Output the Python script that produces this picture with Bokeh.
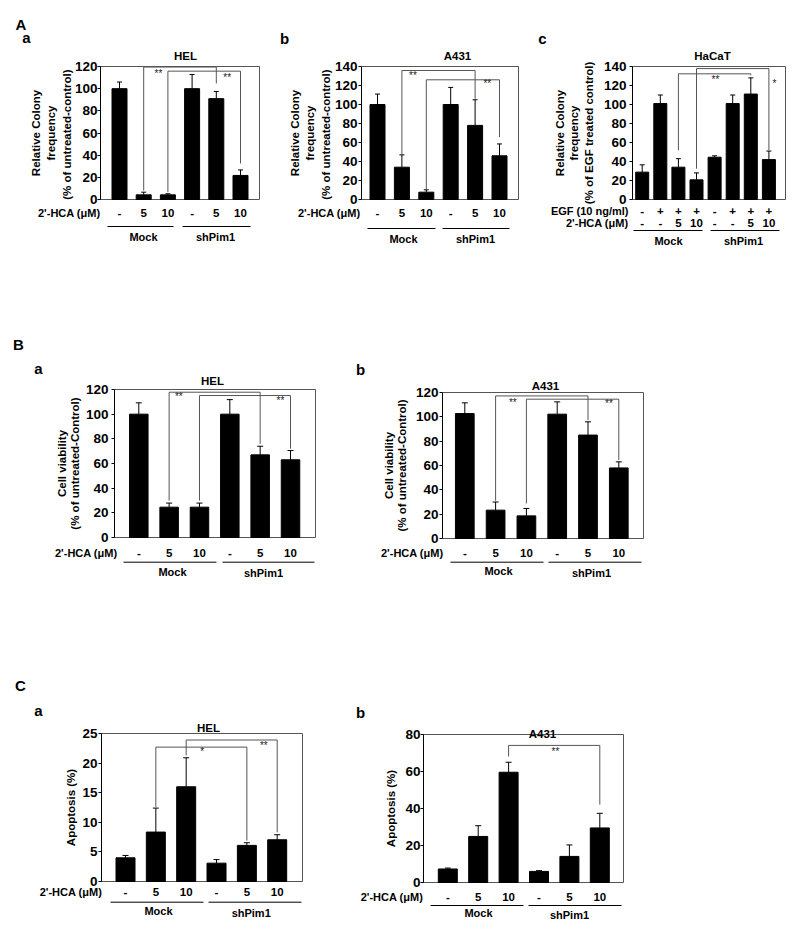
from bokeh.plotting import figure
from bokeh.models import (Range1d, ColumnDataSource, Whisker, TeeHead, FixedTicker)
from bokeh.layouts import row, column
from bokeh.embed import file_html
from bokeh.resources import INLINE
from bokeh.core.properties import value

FONT = "Liberation Sans"

# ------------------------------------------------------------------ data
hca_doses = ["-", "5", "10", "-", "5", "10"]
hacat_egf = ["-", "+", "+", "+", "-", "+", "+", "+"]
hacat_hca = ["-", "-", "5", "10", "-", "-", "5", "10"]
group_names = ["Mock", "shPim1"]

colony_hel = [100, 4.2, 4.2, 100, 91, 21.7]
colony_hel_err = [6, 2.4, 1.0, 12.8, 6.5, 5.0]
colony_a431 = [100, 34, 7.7, 100, 78, 46]
colony_a431_err = [11, 13, 2.5, 18, 27, 12.5]
colony_hacat = [28.8, 101, 34, 20.7, 44.5, 101, 111, 42]
colony_hacat_err = [7.7, 9, 9, 7.3, 1.5, 9, 17, 9]
viability_hel = [100, 24.6, 24.6, 100, 67, 63]
viability_hel_err = [9.2, 3.3, 3.3, 11.8, 7, 7.5]
viability_a431 = [102.7, 23.3, 18.6, 102.2, 85, 58]
viability_a431_err = [8.8, 6.7, 6.1, 10.1, 10.9, 5]
apoptosis_hel = [4.0, 8.35, 16.0, 3.1, 6.1, 7.05]
apoptosis_hel_err = [0.4, 4.05, 4.9, 0.6, 0.45, 0.85]
apoptosis_a431 = [7.3, 24.9, 59.6, 6.0, 14.1, 29.5]
apoptosis_a431_err = [0.5, 5.8, 5.4, 0.4, 6.2, 7.9]

# significance: (bar_i, bar_j, bracket level, end at i, end at j, mark, mark x, mark y)
colony_hel_sig = [(2, 5, 119.5, 8.1, 104.7, "**", 2.61, 114), (3, 6, 115.8, 6.6, 32.5, "**", 5.45, 110.4)]
colony_a431_sig = [(2, 5, 135.8, 48, 106, "**", 2.45, 130.5), (3, 6, 126, 11, 65.6, "**", 5.5, 122.4)]
colony_hacat_sig = [(3, 7, 132.3, 51.8, 130.8, "**", 5.05, 126.3), (4, 8, 137.8, 32.4, 52, "*", 8.31, 121.8)]
viability_hel_sig = [(2, 5, 117.8, 30, 76, "**", 2.32, 114.3), (3, 6, 115.1, 30, 72, "**", 5.67, 111)]
viability_a431_sig = [(2, 5, 117.2, 31, 97.2, "**", 2.56, 111.5), (3, 6, 114.5, 28.8, 64.4, "**", 5.68, 111)]
apoptosis_hel_sig = [(2, 5, 22.7, 12.6, 6.9, "*", 3.53, 22.0), (3, 6, 23.9, 21.3, 8.3, "**", 5.56, 22.9)]
apoptosis_a431_sig = [(3, 6, 74.1, 68.1, 42.1, "**", 4.54, 70.8)]

colony_label = "Relative Colony\nfrequency\n(% of  untreated-control)"
colony_egf_label = "Relative Colony\nfrequency\n(% of EGF treated control)"
viability_label = "Cell viability\n(% of untreated-Control)"
apoptosis_label = "Apoptosis (%)"
hca_name = "2'-HCA (\u03bcM)"
egf_name = "EGF (10 ng/ml)"


def build(cfg, vals, errs, sig, ylabel, title, dose_rows, row_names):
    fx, fy, W, H = cfg["box"]
    L, R, T, B = cfg["frame"]
    c0, step, ymax = cfg["c0"], cfg["step"], cfg["ymax"]

    def xd(px):
        return 1 + (px - c0) / step

    def yd(py):
        return ymax * (B - py) / (B - T)

    p = figure(width=W, height=H,
               x_range=Range1d(xd(fx), xd(fx + W)),
               y_range=Range1d(yd(fy + H), yd(fy)),
               x_axis_location=None,
               min_border_left=0, min_border_right=0,
               min_border_top=0, min_border_bottom=0,
               output_backend="svg", toolbar_location=None)
    p.grid.visible = False
    p.outline_line_color = None

    # plot box
    p.quad(left=[xd(L)], right=[xd(R)], bottom=[0], top=[ymax],
           fill_color=None, line_color="#555555", line_width=1)

    ax = p.yaxis[0]
    ax.fixed_location = xd(L)
    ax.bounds = (0, ymax)
    ax.ticker = FixedTicker(ticks=list(range(0, ymax + 1, cfg["ytick"])))
    ax.axis_label = ylabel
    ax.axis_label_text_font = FONT
    ax.axis_label_text_font_size = "11.5px"
    ax.axis_label_text_font_style = "bold"
    ax.axis_label_text_color = "black"
    ax.axis_label_text_line_height = cfg["lh"]
    ax.axis_label_standoff = cfg["lstand"]
    ax.major_label_text_font = FONT
    ax.major_label_text_font_size = "13.5px"
    ax.major_label_text_font_style = "bold"
    ax.major_label_text_color = "black"
    ax.major_label_standoff = cfg["tstand"]
    ax.major_tick_out = 3
    ax.major_tick_in = 0
    ax.minor_tick_out = 0
    ax.minor_tick_in = 0
    ax.axis_line_color = "black"
    ax.major_tick_line_color = "black"

    n = len(vals)
    xs = list(range(1, n + 1))

    src = ColumnDataSource(dict(x=xs, top=vals,
                                upper=[v + e for v, e in zip(vals, errs)]))
    p.vbar(x="x", top="top", width=cfg["bar_px"] / step, source=src,
           fill_color="black", line_color="black")
    p.add_layout(Whisker(source=src, base="x", lower="top", upper="upper",
                         upper_head=TeeHead(size=cfg["cap"], line_color="black", line_width=1),
                         lower_head=None, line_color="black", line_width=1))

    for (i, j, lvl, ei, ej, mark, mx, my) in sig:
        p.line([i, i, j, j], [ei, lvl, lvl, ej], line_color="#555555", line_width=1)
        p.text([mx], [my], text=[mark], text_font=value(FONT), text_font_size="10px",
               text_color="#222222", text_align="center", text_baseline="middle")

    def lab(xs_, ys_, txts, size="11px", align="center", baseline="middle"):
        p.text(xs_, ys_, text=txts, text_font=value(FONT), text_font_size=size,
               text_font_style="bold", text_color="black", text_align=align,
               text_baseline=baseline)

    # dose rows under the bars
    for labels, name, (ypx, right) in zip(dose_rows, row_names, cfg["rows"]):
        lab(xs, [yd(ypx)] * n, labels, size="11.5px")
        lab([xd(right)], [yd(ypx)], [name], align="right")

    # group underlines and names
    for gname, (x0, x1, ly, tx, ty) in zip(group_names, cfg["groups"]):
        p.segment(x0=[xd(x0)], y0=[yd(ly)], x1=[xd(x1)], y1=[yd(ly)],
                  line_color="black", line_width=1)
        lab([xd(tx)], [yd(ty)], [gname])

    tx, ty = cfg["title_xy"]
    lab([xd(tx)], [yd(ty)], [title], size="11.5px")
    for txt, lx, lb in cfg["letters"]:
        lab([xd(lx)], [yd(lb)], [txt], size="15px", baseline="alphabetic")
    return p


cfg_Aa = dict(box=(0, 0, 270, 330), frame=(100, 259, 66, 199), c0=119, step=24.2,
              bar_px=15, cap=5, ymax=120, ytick=20, title_xy=(185, 55),
              lh=1.3, lstand=-1, tstand=0,
              rows=[(212, 100)],
              groups=[(107, 173, 226, 143, 236), (182, 250, 226, 215, 236)],
              letters=[("A", 20.5, 24), ("a", 26, 37)])
cfg_Ab = dict(box=(270, 0, 260, 330), frame=(361, 518, 66, 199), c0=377, step=24.4,
              bar_px=15, cap=5, ymax=140, ytick=20, title_xy=(457, 55),
              lh=1.3, lstand=0, tstand=1,
              rows=[(212, 360)],
              groups=[(367, 435, 228, 403, 238), (442, 509, 228, 475, 238)],
              letters=[("b", 284, 38)])
cfg_Ac = dict(box=(530, 0, 270, 330), frame=(632, 785, 66, 199), c0=641.7, step=18.1,
              bar_px=13, cap=5, ymax=140, ytick=20, title_xy=(712, 55),
              lh=1.22, lstand=6, tstand=3,
              rows=[(210, 628), (222, 628)],
              groups=[(633, 702, 230, 668, 240), (710, 779, 230, 743, 240)],
              letters=[("c", 542, 38)])
cfg_Ba = dict(box=(0, 330, 350, 332), frame=(114, 315, 389, 537), c0=138.3, step=30.34,
              bar_px=18.5, cap=6, ymax=120, ytick=20, title_xy=(212, 380),
              lh=1.05, lstand=2, tstand=3,
              rows=[(552.7, 117)],
              groups=[(123, 216, 561.7, 172, 571), (222, 314, 561.7, 263, 572)],
              letters=[("B", 18, 344), ("a", 38, 368)])
cfg_Bb = dict(box=(350, 330, 450, 332), frame=(442, 643, 392, 538), c0=464.3, step=30.8,
              bar_px=18.7, cap=6, ymax=120, ytick=20, title_xy=(545, 385),
              lh=1.05, lstand=5, tstand=1,
              rows=[(552.7, 443)],
              groups=[(450, 543, 561.7, 498, 570), (548, 641, 561.7, 591, 572)],
              letters=[("b", 360, 369)])
cfg_Ca = dict(box=(0, 662, 350, 260), frame=(101, 302, 733, 881), c0=125, step=30.34,
              bar_px=19, cap=6, ymax=25, ytick=5, title_xy=(208, 727),
              lh=1.2, lstand=2, tstand=1,
              rows=[(891.7, 101.7)],
              groups=[(110, 203, 901.7, 158, 910.7), (208, 301, 901.7, 250.7, 912)],
              letters=[("C", 20, 685), ("a", 38, 710)])
cfg_Cb = dict(box=(350, 662, 450, 260), frame=(423, 623, 734, 882), c0=447.3, step=30.4,
              bar_px=19, cap=6, ymax=80, ytick=20, title_xy=(542, 733),
              lh=1.2, lstand=5, tstand=0,
              rows=[(896, 422.7)],
              groups=[(430, 523, 905, 478, 912), (528, 621, 905, 569, 914)],
              letters=[("b", 360, 712)])

pAa = build(cfg_Aa, colony_hel, colony_hel_err, colony_hel_sig, colony_label, "HEL",
            [hca_doses], [hca_name])
pAb = build(cfg_Ab, colony_a431, colony_a431_err, colony_a431_sig, colony_label, "A431",
            [hca_doses], [hca_name])
pAc = build(cfg_Ac, colony_hacat, colony_hacat_err, colony_hacat_sig, colony_egf_label, "HaCaT",
            [hacat_egf, hacat_hca], [egf_name, hca_name])
pBa = build(cfg_Ba, viability_hel, viability_hel_err, viability_hel_sig, viability_label, "HEL",
            [hca_doses], [hca_name])
pBb = build(cfg_Bb, viability_a431, viability_a431_err, viability_a431_sig, viability_label, "A431",
            [hca_doses], [hca_name])
pCa = build(cfg_Ca, apoptosis_hel, apoptosis_hel_err, apoptosis_hel_sig, apoptosis_label, "HEL",
            [hca_doses], [hca_name])
pCb = build(cfg_Cb, apoptosis_a431, apoptosis_a431_err, apoptosis_a431_sig, apoptosis_label, "A431",
            [hca_doses], [hca_name])

layout = column(row(pAa, pAb, pAc), row(pBa, pBb), row(pCa, pCb))
open("out.html", "w").write(file_html(layout, INLINE))
